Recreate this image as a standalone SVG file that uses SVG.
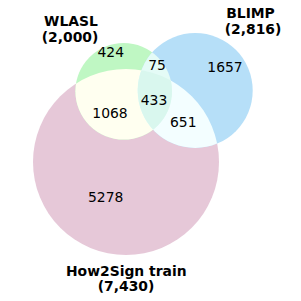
<svg xmlns="http://www.w3.org/2000/svg" width="301" height="301" viewBox="0 0 301 301">
<style>
.n{font-family:"DejaVu Sans",sans-serif;font-size:13.9px;text-anchor:middle;fill:#000}
.l{font-family:"DejaVu Sans",sans-serif;font-size:13.9px;font-weight:bold;text-anchor:middle;fill:#000}
</style>
<defs>
<circle id="cH" cx="126" cy="162" r="93"/>
<circle id="cW" cx="123.7" cy="91.3" r="48.3"/>
<circle id="cB" cx="195.2" cy="90.5" r="57.5"/>
<clipPath id="clipH"><use href="#cH"/></clipPath>
<clipPath id="clipW"><use href="#cW"/></clipPath>
<clipPath id="clipB"><use href="#cB"/></clipPath>
</defs>
<rect width="301" height="301" fill="#fff"/>
<g id="how2sign"><use href="#cH" fill="#e6c8d8"/></g>
<g id="wlasl"><use href="#cW" fill="#bff7c3"/></g>
<g id="blimp"><use href="#cB" fill="#b6dff8"/></g>
<g id="overlaps">
<g clip-path="url(#clipH)"><use href="#cW" fill="#fffff0"/><use href="#cB" fill="#f3feff"/></g>
<g clip-path="url(#clipW)"><use href="#cB" fill="#e4fbf6"/></g>
<g clip-path="url(#clipH)"><g clip-path="url(#clipW)"><use href="#cB" fill="#d9f7ee"/></g></g>
</g>
<g id="labels">
<text class="l" x="71" y="26">WLASL</text>
<text class="l" x="70" y="42">(2,000)</text>
<text class="l" x="250.5" y="18">BLIMP</text>
<text class="l" x="253" y="34">(2,816)</text>
<text class="l" x="126.3" y="275.5">How2Sign train</text>
<text class="l" x="126" y="291">(7,430)</text>
</g>
<g id="counts">
<text class="n" x="110.8" y="57">424</text>
<text class="n" x="157" y="70">75</text>
<text class="n" x="225" y="72">1657</text>
<text class="n" x="154" y="105">433</text>
<text class="n" x="110" y="118">1068</text>
<text class="n" x="183.3" y="126.5">651</text>
<text class="n" x="105.7" y="202">5278</text>
</g>
</svg>
